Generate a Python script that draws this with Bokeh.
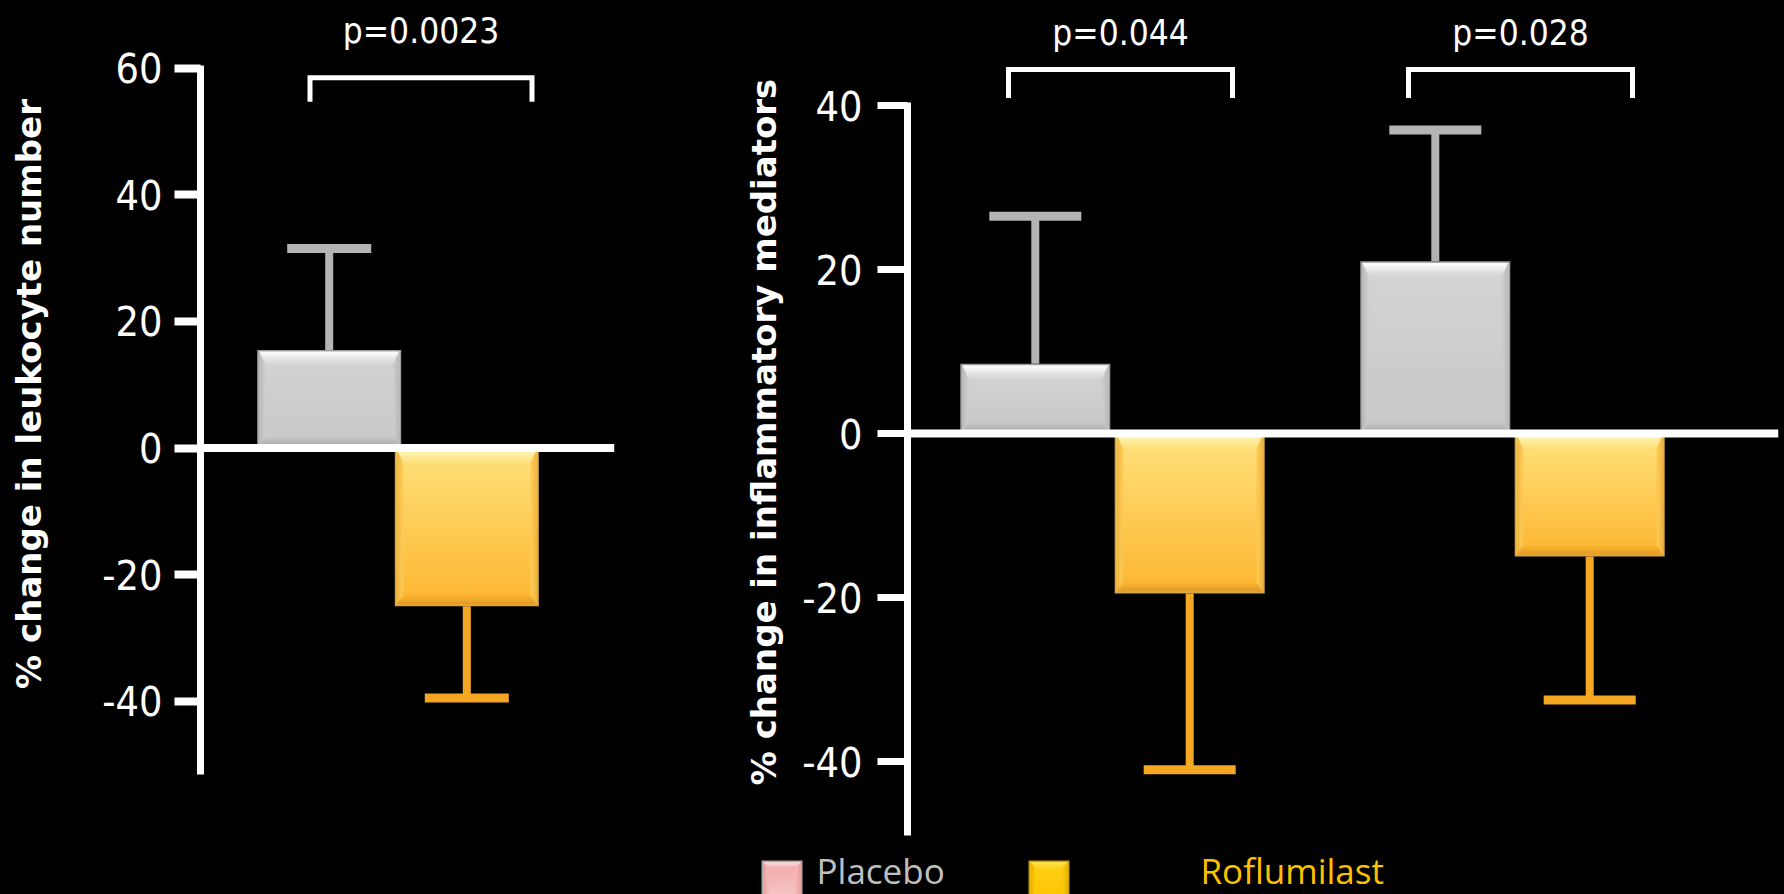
import numpy as np
from bokeh.plotting import figure
from bokeh.layouts import row, column
from bokeh.models import Range1d, FixedTicker, Span
from bokeh.core.properties import value
from bokeh.embed import file_html
from bokeh.resources import INLINE

# ---------------- data ----------------
series = ["Placebo", "Roflumilast"]

leuk_groups = ["Leukocytes"]
leuk_placebo_mean = [15.5]
leuk_placebo_sd = [16.0]
leuk_rof_mean = [-25.0]
leuk_rof_sd = [14.5]
leuk_pvalues = ["p=0.0023"]
leuk_ticks = [-40, -20, 0, 20, 40, 60]
leuk_tick_labels = ["-40", "-20", "0", "20", "40", "60"]
leuk_title = "% change in leukocyte number"

med_groups = ["Mediators A", "Mediators B"]
med_placebo_mean = [8.5, 21.0]
med_placebo_sd = [18.0, 16.0]
med_rof_mean = [-19.5, -15.0]
med_rof_sd = [21.5, 17.5]
med_pvalues = ["p=0.044", "p=0.028"]
med_ticks = [-40, -20, 0, 20, 40]
med_tick_labels = ["-40", "-20", "0", "20", "40"]
med_title = "% change in inflammatory mediators"

# ---------------- styles ----------------
NARROW = "DejaVu Sans Condensed"
TITLE_FONT = "DejaVu Sans"
LEGEND_FONT = "Open Sans"
PX_PER_X = 400.0  # screen pixels per group step
BLACK_BG = {"background-color": "black"}
EN_SPACE = "\u2002"  # pads the end of a rotated title to nudge it along the axis

PLACEBO_STYLE = dict(face_top="#d4d4d4", face_bot="#c8c8c8", top_c="#ffffff",
                     bot_c="#a6a6a6", side_c="#b8b8b8", edge_c="#9a9a9a")
ROF_STYLE = dict(face_top="#ffe27c", face_bot="#fdb631", top_c="#fff6bc",
                 bot_c="#e09b2a", side_c="#eeb444", edge_c="#d6a64c")
PLACEBO_ERR = "#b4b4b4"
ROF_ERR = "#f5a623"


def mix(c1, c2, t):
    a = [int(c1[i:i + 2], 16) for i in (1, 3, 5)]
    b = [int(c2[i:i + 2], 16) for i in (1, 3, 5)]
    return "#%02x%02x%02x" % tuple(int(round(a[k] + (b[k] - a[k]) * t)) for k in range(3))


def bevel_rect(p, x0, x1, yb, yt, ux, uy, face_top, face_bot, top_c, bot_c, side_c,
               edge_c, edge=2, tb=13, bb=9, sb=6, slices=28, steps=7):
    """Rectangle with an outline, a vertical gradient face and bevelled borders.
    ux / uy are data units per screen pixel."""
    p.quad(left=[x0], right=[x1], top=[yt], bottom=[yb], fill_color=edge_c, line_color=None)
    ix0, ix1 = x0 + edge * ux, x1 - edge * ux
    iyt, iyb = yt - edge * uy, yb + edge * uy
    fr = np.linspace(0.0, 1.0, slices + 1)
    tops = list(iyt - (iyt - iyb) * fr[:-1])
    bots = list(iyt - (iyt - iyb) * fr[1:])
    cols = [mix(face_top, face_bot, (k + 0.5) / slices) for k in range(slices)]
    p.quad(left=[ix0] * slices, right=[ix1] * slices, top=tops, bottom=bots,
           fill_color=cols, line_color=cols, line_width=1)
    mid = mix(face_top, face_bot, 0.5)
    f = np.linspace(0.0, 1.0, steps + 1)
    xs, ys, cs = [], [], []
    for i in range(steps):
        a, b = f[i], f[i + 1]
        t = (i + 0.5) / steps
        # top band
        xs.append([ix0 + a * sb * ux, ix1 - a * sb * ux, ix1 - b * sb * ux, ix0 + b * sb * ux])
        ys.append([iyt - a * tb * uy, iyt - a * tb * uy, iyt - b * tb * uy, iyt - b * tb * uy])
        cs.append(mix(top_c, face_top, t))
        # bottom band
        xs.append([ix0 + a * sb * ux, ix1 - a * sb * ux, ix1 - b * sb * ux, ix0 + b * sb * ux])
        ys.append([iyb + a * bb * uy, iyb + a * bb * uy, iyb + b * bb * uy, iyb + b * bb * uy])
        cs.append(mix(bot_c, face_bot, t))
        # left band
        xs.append([ix0 + a * sb * ux, ix0 + b * sb * ux, ix0 + b * sb * ux, ix0 + a * sb * ux])
        ys.append([iyt - a * tb * uy, iyt - b * tb * uy, iyb + b * bb * uy, iyb + a * bb * uy])
        cs.append(mix(side_c, mid, t))
        # right band
        xs.append([ix1 - a * sb * ux, ix1 - b * sb * ux, ix1 - b * sb * ux, ix1 - a * sb * ux])
        ys.append([iyt - a * tb * uy, iyt - b * tb * uy, iyb + b * bb * uy, iyb + a * bb * uy])
        cs.append(mix(side_c, mid, t))
    p.patches(xs=xs, ys=ys, fill_color=cs, line_color=cs, line_width=0.6)


def error_bar(p, xc, mean, sd, cap_w, color, stem_w=8, cap_t=9):
    tip = mean + sd if mean >= 0 else mean - sd
    p.segment(x0=[xc], y0=[mean], x1=[xc], y1=[tip], line_width=stem_w, line_color=color)
    p.segment(x0=[xc - cap_w / 2], y0=[tip], x1=[xc + cap_w / 2], y1=[tip],
              line_width=cap_t, line_color=color)


def make_chart(width, height, border_l, border_r, border_b, frame_h, zero_px, px_per_unit,
               group0_px, frame_w, ticks, tick_labels, bounds, title, tick_out, tick_w,
               label_standoff, title_standoff):
    y_top = zero_px / px_per_unit
    y_bot = -(frame_h - zero_px) / px_per_unit
    x_start = -group0_px / PX_PER_X
    x_end = (frame_w - group0_px) / PX_PER_X
    p = figure(width=width, height=height, x_range=Range1d(x_start, x_end),
               y_range=Range1d(y_bot, y_top), output_backend="svg",
               toolbar_location=None, tools="", frame_align=False,
               min_border_left=border_l, min_border_right=border_r,
               min_border_top=0, min_border_bottom=border_b, styles=BLACK_BG)
    p.background_fill_color = "black"
    p.border_fill_color = "black"
    p.outline_line_color = None
    p.xaxis.visible = False
    p.grid.visible = False
    ax = p.yaxis[0]
    ax.ticker = FixedTicker(ticks=ticks)
    ax.major_label_overrides = {t: l for t, l in zip(ticks, tick_labels)}
    ax.bounds = bounds
    ax.axis_line_color = "white"
    ax.axis_line_width = 7
    ax.major_tick_line_color = "white"
    ax.major_tick_line_width = tick_w
    ax.major_tick_out = tick_out
    ax.major_tick_in = 0
    ax.minor_tick_line_color = None
    ax.major_label_text_color = "white"
    ax.major_label_text_font = NARROW
    ax.major_label_text_font_size = "41px"
    ax.major_label_standoff = label_standoff
    ax.axis_label = title
    ax.axis_label_text_color = "white"
    ax.axis_label_text_font = TITLE_FONT
    ax.axis_label_text_font_style = "bold"
    ax.axis_label_text_font_size = "34px"
    ax.axis_label_standoff = title_standoff
    return p, 1.0 / PX_PER_X, 1.0 / px_per_unit


def draw_groups(p, ux, uy, pl_mean, pl_sd, rof_mean, rof_sd, pvals, offset, bar_w, cap_w,
                br_left, br_right, br_top, br_leg, p_y):
    n = len(pl_mean)
    for g in range(n):
        xp, xr = g - offset, g + offset
        error_bar(p, xp, pl_mean[g], pl_sd[g], cap_w * ux, PLACEBO_ERR)
        error_bar(p, xr, rof_mean[g], rof_sd[g], cap_w * ux, ROF_ERR)
    for g in range(n):
        xp, xr = g - offset, g + offset
        bevel_rect(p, xp - bar_w / 2, xp + bar_w / 2, min(pl_mean[g], 0), max(pl_mean[g], 0),
                   ux, uy, **PLACEBO_STYLE)
        bevel_rect(p, xr - bar_w / 2, xr + bar_w / 2, min(rof_mean[g], 0), max(rof_mean[g], 0),
                   ux, uy, **ROF_STYLE)
        # significance bracket and p-value
        xa, xb = g + br_left, g + br_right
        p.line(x=[xa, xa, xb, xb], y=[br_leg, br_top, br_top, br_leg], line_color="white",
               line_width=5, line_join="miter")
        p.text(x=[(xa + xb) / 2], y=[p_y], text=[pvals[g]], text_color="white",
               text_font=value(NARROW), text_font_size="35px", text_align="center",
               text_baseline="alphabetic")
    p.add_layout(Span(location=0, dimension="width", line_color="white", line_width=8))


# ---------------- left chart: leukocytes ----------------
left, lux, luy = make_chart(width=640, height=894, border_l=200, border_r=26, border_b=107,
                            frame_h=787, zero_px=447.5, px_per_unit=6.33, group0_px=197.5,
                            frame_w=414, ticks=leuk_ticks, tick_labels=leuk_tick_labels,
                            bounds=(-51.6, 60.5), title=leuk_title, tick_out=26, tick_w=8,
                            label_standoff=12, title_standoff=50)
draw_groups(left, lux, luy, leuk_placebo_mean, leuk_placebo_sd, leuk_rof_mean, leuk_rof_sd,
            leuk_pvalues, offset=0.172, bar_w=0.36, cap_w=84,
            br_left=-0.22, br_right=0.335, br_top=58.5, br_leg=54.7, p_y=65.9)

# ---------------- right chart: inflammatory mediators ----------------
RIGHT_H = 846
LEGEND_H = 894 - RIGHT_H
right, rux, ruy = make_chart(width=1144, height=RIGHT_H, border_l=267, border_r=6, border_b=0,
                             frame_h=RIGHT_H, zero_px=433, px_per_unit=8.2, group0_px=205,
                             frame_w=871, ticks=med_ticks, tick_labels=med_tick_labels,
                             bounds=(-49.0, 40.4), title=med_title + EN_SPACE, tick_out=30,
                             tick_w=7, label_standoff=15, title_standoff=15)
draw_groups(right, rux, ruy, med_placebo_mean, med_placebo_sd, med_rof_mean, med_rof_sd,
            med_pvalues, offset=0.193, bar_w=0.375, cap_w=92,
            br_left=-0.26, br_right=0.30, br_top=44.4, br_leg=40.9, p_y=48.9)

# ---------------- legend strip ----------------
leg = figure(width=1144, height=LEGEND_H, x_range=Range1d(0, 1144),
             y_range=Range1d(0, LEGEND_H), output_backend="svg", toolbar_location=None,
             tools="", frame_align=False, min_border_left=0, min_border_right=0,
             min_border_top=0, min_border_bottom=0, styles=BLACK_BG)
leg.background_fill_color = "black"
leg.border_fill_color = "black"
leg.outline_line_color = None
leg.axis.visible = False
leg.grid.visible = False

swatch_x = [121, 388]
label_x = [176, 560]
label_colors = ["#bfbfbf", "#ffc000"]
swatch_styles = [
    dict(face_top="#f2a9a9", face_bot="#f6c9c9", top_c="#fbe3e3", bot_c="#b0b0b0",
         side_c="#e89c9c", edge_c="#a8a8a8"),
    dict(face_top="#ffd21a", face_bot="#ffc400", top_c="#ffe45a", bot_c="#d9a300",
         side_c="#e6b000", edge_c="#c89a10"),
]
for i, name in enumerate(series):
    bevel_rect(leg, swatch_x[i], swatch_x[i] + 41, -8, LEGEND_H - 14, 1.0, 1.0, tb=6, bb=4,
               sb=5, steps=4, **swatch_styles[i])
    leg.text(x=[label_x[i]], y=[24], text=[name], text_color=label_colors[i],
             text_font=value(LEGEND_FONT), text_font_size="35px", text_align="left",
             text_baseline="alphabetic")

layout = row(left, column(right, leg, spacing=0, styles=BLACK_BG), spacing=0, styles=BLACK_BG)
open("out.html", "w").write(file_html(layout, INLINE))
